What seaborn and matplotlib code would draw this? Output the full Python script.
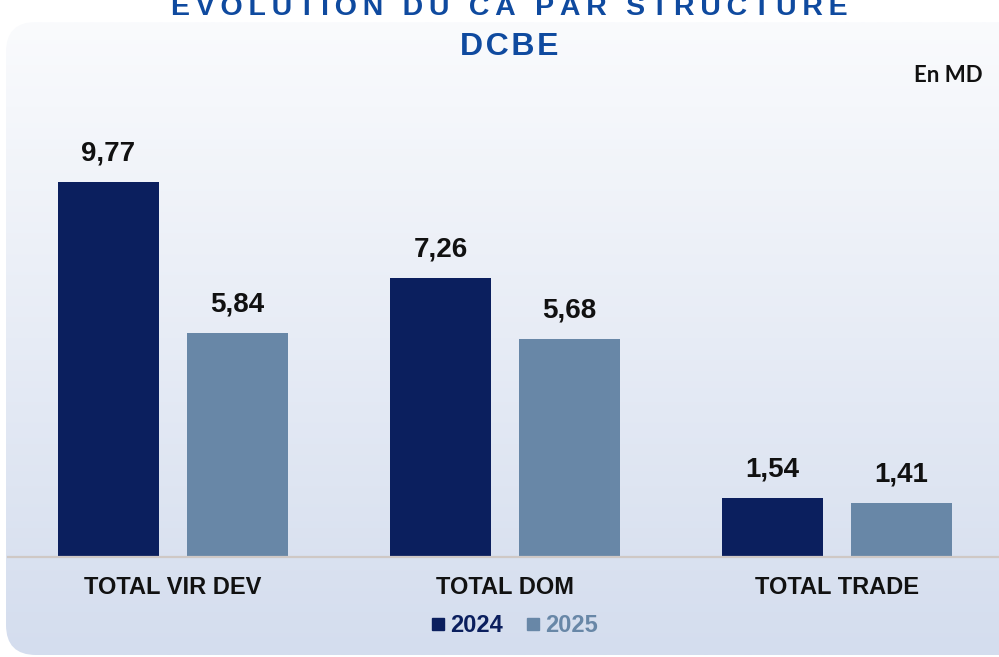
import numpy as np
import pandas as pd
import matplotlib
matplotlib.use("Agg")
import matplotlib.pyplot as plt
from matplotlib.patches import FancyBboxPatch
from matplotlib.lines import Line2D
import seaborn as sns

categories = ["TOTAL VIR DEV", "TOTAL DOM", "TOTAL TRADE"]
years = ["2024", "2025"]
values_2024 = [9.77, 7.26, 1.54]
values_2025 = [5.84, 5.68, 1.41]
title_line1 = "EVOLUTION DU CA PAR STRUCTURE"
title_line2 = "DCBE"
unit_label = "En MD"

dark = "#0b1f5e"
light = "#6887a7"
title_color = "#0f4a9f"

df = pd.DataFrame({
    "categorie": categories * 2,
    "annee": [years[0]] * 3 + [years[1]] * 3,
    "valeur": values_2024 + values_2025,
})

sns.set_theme(style="white")
plt.rcParams["font.family"] = ["Liberation Sans", "DejaVu Sans"]

W, H = 999, 657
fig = plt.figure(figsize=(W / 100, H / 100), dpi=100)
fig.patch.set_facecolor("white")

# background panel with vertical gradient
bg = fig.add_axes([0, 0, 1, 1], zorder=0)
bg.set_xlim(0, W)
bg.set_ylim(0, H)
bg.axis("off")
grad = np.linspace(0, 1, 256).reshape(-1, 1)
top = np.array([0xfa, 0xfb, 0xfd]) / 255
bot = np.array([0xd4, 0xdd, 0xee]) / 255
img = top + (bot - top) * grad[:, :, None]
im = bg.imshow(img, extent=[0, W, H, 0], aspect="auto", origin="upper")
im.set_extent([6, W + 40, 2, H - 22])
panel = FancyBboxPatch((6, 2), W + 40, H - 24, boxstyle="round,pad=0,rounding_size=30",
                       transform=bg.transData, facecolor="none", edgecolor="none")
bg.add_patch(panel)
im.set_clip_path(panel)
bg.set_ylim(0, H)

ax = fig.add_axes([8 / W, (H - 557) / H, 1 - 8 / W, 11 * 38.4 / H], zorder=1)
ax.patch.set_alpha(0)
sns.barplot(data=df, x="categorie", y="valeur", hue="annee", hue_order=years,
            order=categories, palette=[dark, light], width=0.777, gap=0.21,
            saturation=1, legend=False, linewidth=0, ax=ax)
ax.set_xlim(-0.497, 2.488)
ax.set_ylim(0, 11)
ax.set_xlabel("")
ax.set_ylabel("")
ax.set_yticks([])
for s in ["top", "right", "left"]:
    ax.spines[s].set_visible(False)
ax.spines["bottom"].set_color("#cfc8c5")
ax.spines["bottom"].set_linewidth(1.6)
ax.tick_params(axis="x", length=0, pad=14)
for lab in ax.get_xticklabels():
    lab.set_fontsize(17)
    lab.set_fontweight("bold")
    lab.set_color("#111111")

for cont in ax.containers:
    labels = [f"{b.get_height():.2f}".replace(".", ",") for b in cont]
    ax.bar_label(cont, labels=labels, padding=11, fontsize=20, fontweight="bold", color="#111111")

def spaced(s, sep):
    return sep.join(s)

fig.text(0.51, 1 - 15 / H, spaced(title_line1, "\u2009"), ha="center", va="baseline",
         fontsize=20.5, fontweight="bold", color=title_color,
         family=["Liberation Sans", "DejaVu Sans"])
fig.text(0.51, 1 - 55 / H, spaced(title_line2, "\u200a"), ha="center", va="baseline",
         fontsize=23, fontweight="bold", color=title_color,
         family=["Liberation Sans", "DejaVu Sans"])
fig.text(983 / W, 1 - 82 / H, unit_label, ha="right", va="baseline",
         fontsize=16, fontweight="bold", color="#111111", family=["Lato", "DejaVu Sans"])

handles = [Line2D([], [], marker="s", linestyle="none", markersize=8, color=c) for c in [dark, light]]
fig.legend(handles, years, loc="center", bbox_to_anchor=(0.515, 1 - 626 / H), ncol=2,
           frameon=False, handlelength=0.6, handletextpad=0.2, columnspacing=1.0,
           labelcolor=[dark, light], prop={"size": 17, "weight": "bold"})

fig.savefig("out.png", dpi=100)
